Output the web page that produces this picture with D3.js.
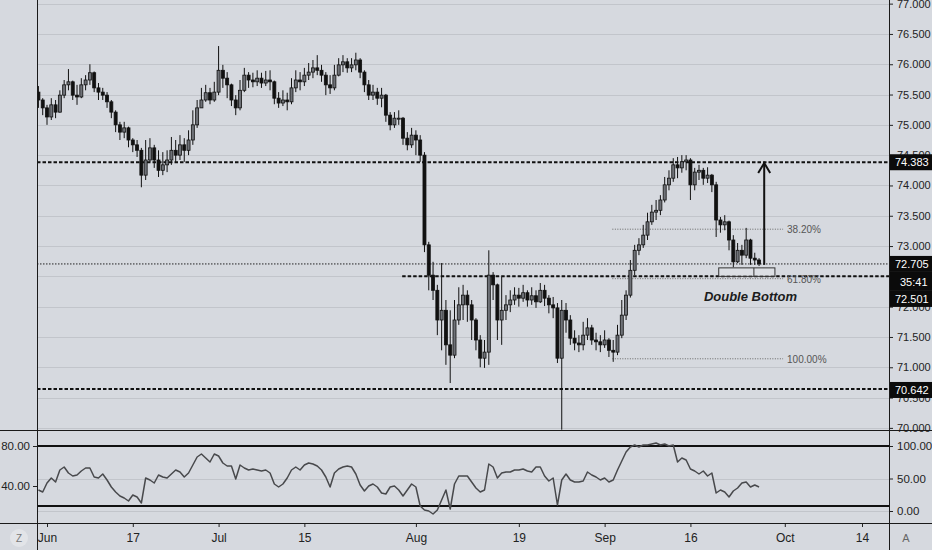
<!DOCTYPE html>
<html><head><meta charset="utf-8">
<script src="https://cdn.jsdelivr.net/npm/d3@7"></script>
<style>html,body{margin:0;padding:0;background:#d6d9df;overflow:hidden}svg{display:block;font-family:"Liberation Sans",Arial,sans-serif}</style>
</head><body><svg id="c" width="932" height="550"></svg>
<script>
// ---- data ----
// time axis: trading-day index counted from Mon 3 Jun 2019
const tickLabels = ["Jun","17","Jul","15","Aug","19","Sep","16","Oct","14"];
const tickDays   = [0,10,20,30,43,55,65,75,86,95];
const firstDay = -1, dayStep = 0.5; // half-day candles

const opens = [
75.54,75.41,75.28,75.13,75.33,75.21,75.49,75.66,75.71,75.49,
75.46,75.66,75.74,75.86,75.61,75.54,75.49,75.38,75.21,75.00,
74.88,74.95,74.75,74.67,74.58,74.17,74.42,74.62,74.42,74.25,
74.34,74.42,74.58,74.50,74.67,74.58,74.75,75.00,75.28,75.41,
75.53,75.41,75.54,75.90,75.77,75.66,75.41,75.28,75.57,75.82,
75.74,75.71,75.77,75.69,75.74,75.71,75.44,75.36,75.41,75.38,
75.61,75.74,75.71,75.82,75.87,75.94,75.90,75.82,75.66,75.61,
75.82,75.99,76.04,75.94,75.99,76.07,75.87,75.66,75.49,75.54,
75.44,75.49,75.16,75.00,75.11,75.11,74.78,74.67,74.83,74.75,
74.50,73.02,72.52,72.27,71.78,71.94,71.37,71.20,71.78,72.03,
72.19,72.03,71.78,71.45,71.15,71.25,72.52,72.36,71.78,71.94,
72.03,72.11,72.19,72.14,72.23,72.11,72.18,72.08,72.27,72.14,
72.03,71.98,71.15,71.94,71.78,71.48,71.40,71.37,71.53,71.65,
71.45,71.42,71.37,71.45,71.28,71.25,71.53,71.86,72.19,72.60,
72.93,73.02,73.18,73.40,73.56,73.59,73.76,74.01,74.12,74.34,
74.29,74.39,74.42,74.01,74.22,74.25,74.12,74.17,74.01,73.43,
73.35,73.40,73.10,72.74,72.93,72.85,73.10,72.80,72.77];
const highs = [
75.64,75.44,75.33,75.44,75.41,75.57,75.74,75.92,75.73,75.66,
75.77,75.82,76.00,75.88,75.69,75.61,75.54,75.41,75.24,75.05,
75.05,74.97,74.78,74.75,74.62,74.75,74.78,74.67,74.58,74.55,
74.58,74.80,74.75,74.83,74.78,74.91,75.24,75.41,75.61,75.66,
75.61,75.71,76.30,75.99,75.87,75.68,75.49,75.74,75.94,75.87,
75.86,75.90,75.86,75.89,75.90,75.73,75.54,75.57,75.53,75.77,
75.90,75.87,75.94,76.02,76.07,76.15,75.99,75.87,75.82,75.99,
76.10,76.15,76.10,76.10,76.19,76.10,75.90,75.74,75.66,75.61,
75.61,75.51,75.21,75.21,75.24,75.13,74.88,74.95,74.91,74.83,
74.55,73.07,72.74,72.36,72.72,72.11,71.94,72.11,72.32,72.36,
72.27,72.11,71.81,71.53,71.45,72.93,72.57,72.38,72.49,72.19,
72.27,72.32,72.31,72.36,72.27,72.32,72.27,72.39,72.36,72.19,
72.16,72.06,72.11,72.06,71.86,71.61,71.53,71.75,71.81,71.70,
71.57,71.53,71.61,71.48,71.45,71.70,72.11,72.27,72.77,73.02,
73.13,73.35,73.55,73.68,73.76,73.84,74.14,74.25,74.45,74.47,
74.50,74.50,74.45,74.29,74.34,74.29,74.30,74.19,74.06,73.48,
73.51,73.42,73.18,73.05,73.02,73.30,73.12,72.89,72.80];
const lows = [
75.28,75.16,75.00,75.08,75.11,75.20,75.44,75.57,75.41,75.33,
75.44,75.57,75.66,75.54,75.41,75.41,75.28,75.11,74.88,74.75,
74.78,74.63,74.55,74.47,73.97,74.09,74.39,74.29,74.14,74.17,
74.22,74.34,74.37,74.42,74.39,74.50,74.67,74.95,75.28,75.38,
75.34,75.38,75.49,75.61,75.44,75.31,75.16,75.24,75.54,75.61,
75.62,75.64,75.61,75.64,75.57,75.34,75.28,75.31,75.24,75.34,
75.54,75.57,75.64,75.74,75.77,75.82,75.71,75.49,75.51,75.57,
75.80,75.87,75.86,75.87,75.90,75.77,75.54,75.41,75.41,75.33,
75.29,75.05,74.91,74.95,75.00,74.67,74.58,74.62,74.50,74.39,
72.90,72.27,72.11,71.53,71.28,71.04,70.74,71.15,71.70,71.78,
71.75,71.45,71.28,71.00,70.99,71.04,72.11,71.45,71.37,71.78,
71.91,72.03,72.00,72.08,72.00,72.03,71.98,72.06,72.01,71.89,
71.81,71.07,69.97,71.57,71.37,71.28,71.25,71.28,71.45,71.37,
71.28,71.25,71.32,71.17,71.09,71.20,71.48,71.78,72.15,72.52,
72.85,72.97,73.10,73.35,73.43,73.51,73.72,73.92,74.06,74.12,
74.21,74.25,73.76,73.92,74.09,74.01,74.04,73.89,73.15,73.22,
73.26,72.93,72.65,72.72,72.69,72.80,72.69,72.69,72.67];
const closes = [
75.41,75.28,75.13,75.33,75.21,75.49,75.66,75.71,75.49,75.46,
75.66,75.74,75.86,75.61,75.54,75.49,75.38,75.21,75.00,74.88,
74.95,74.75,74.67,74.58,74.17,74.42,74.62,74.42,74.25,74.34,
74.42,74.58,74.50,74.67,74.58,74.75,75.00,75.28,75.41,75.53,
75.41,75.54,75.90,75.77,75.66,75.41,75.28,75.57,75.82,75.74,
75.71,75.77,75.69,75.74,75.71,75.44,75.36,75.41,75.38,75.61,
75.74,75.71,75.82,75.87,75.94,75.90,75.82,75.66,75.61,75.82,
75.99,76.04,75.94,75.99,76.07,75.87,75.66,75.49,75.54,75.44,
75.49,75.16,75.00,75.11,75.11,74.78,74.67,74.83,74.75,74.50,
73.02,72.52,72.27,71.78,71.94,71.37,71.20,71.78,72.03,72.19,
72.03,71.78,71.45,71.15,71.25,72.52,72.36,71.78,71.94,72.03,
72.11,72.19,72.14,72.23,72.11,72.18,72.08,72.27,72.14,72.03,
71.98,71.15,71.94,71.78,71.48,71.40,71.37,71.53,71.65,71.45,
71.42,71.37,71.45,71.28,71.25,71.53,71.86,72.19,72.60,72.93,
73.02,73.18,73.40,73.56,73.59,73.76,74.01,74.12,74.34,74.29,
74.39,74.42,74.01,74.22,74.25,74.12,74.17,74.01,73.43,73.35,
73.40,73.10,72.74,72.93,72.85,73.10,72.80,72.77,72.705];
const rsi = [
36,34,43,48,44,56,59,53,50,51,
55,58,58,49,48,52,46,39,34,30,
28,25,31,29,23,48,46,43,51,49,
48,52,56,54,49,53,61,69,72,68,
64,72,70,63,60,60,47,61,58,56,
57,56,55,56,53,42,39,42,48,56,
59,56,61,63,62,60,56,49,39,53,
57,59,60,59,52,41,35,40,42,39,
33,32,39,40,36,30,36,42,39,20,
16,15,12,16,26,36,17,42,50,50,
50,44,38,34,36,62,59,48,53,54,
54,56,56,57,55,54,59,59,50,45,
48,21,46,52,46,44,44,45,54,51,
49,46,48,44,46,56,65,74,79,81,
79,81,81,82,83,81,82,80,81,64,
68,66,57,55,52,55,50,53,33,36,
34,29,35,38,43,44,39,41,39];

const priceTicks = [70,70.5,71,71.5,72,72.5,73,73.5,74,74.5,75,75.5,76,76.5,77];
const keyLevels = [74.383, 72.501, 70.642];
const keyLevelStartDay = [-2, 41.4, -2];
const lastPrice = 72.705, countdown = "35:41";
const fibHigh = 74.60, fibLow = 71.14;
const fibRatios = [0.382, 0.618, 1.0];
const fibLabels = ["38.20%","61.80%","100.00%"];
const fibStartDay = 65.9, fibEndDay = 85.8;
const arrowDay = 83.6, arrowFrom = 72.69, arrowTo = 74.37;
const boxDays = [78.3, 82.4, 84.85], boxTop = 72.64, boxBottom = 72.50;
const patternLabel = "Double Bottom", patternDay = 82.0, patternPrice = 72.10;
const rsiLeftTicks = [80, 40], rsiBands = [80, 20], rsiRightTicks = [100, 50, 0];

// ---- drawing ----
const W = 932, H = 550, L = 37, R = 889, mainB = 430, axT = 523;
const svg = d3.select("#c");
svg.append("rect").attr("width", W).attr("height", H).attr("fill", "#d6d9df");
const defs = svg.append("defs");
defs.append("clipPath").attr("id", "cm").append("rect").attr("x", L).attr("y", 0).attr("width", R - L).attr("height", mainB);
defs.append("clipPath").attr("id", "cr").append("rect").attr("x", L).attr("y", mainB).attr("width", R - L).attr("height", axT - mainB);

const x = d3.scaleLinear().domain([0, 95]).range([47, 862]);
const y = d3.scaleLinear().domain([69.965, 77.06]).range([430, 0]);
const yL = d3.scaleLinear().domain([40, 80]).range([486, 446]);
const yR = d3.scaleLinear().domain([0, 100]).range([511, 446]);

const main = svg.append("g").attr("clip-path", "url(#cm)");
// grid
main.selectAll("line.g").data(priceTicks).join("line")
  .attr("x1", L).attr("x2", R).attr("y1", d => Math.round(y(d)) + 0.5).attr("y2", d => Math.round(y(d)) + 0.5)
  .attr("stroke", "#c2c5cb").attr("stroke-width", 1);

// current price line
main.append("line").attr("x1", L).attr("x2", R).attr("y1", y(lastPrice)).attr("y2", y(lastPrice))
  .attr("stroke", "#222").attr("stroke-width", 1).attr("stroke-dasharray", "1.5,1.5");

// key dashed levels
keyLevels.forEach((v, i) => {
  main.append("line").attr("x1", Math.max(L, x(keyLevelStartDay[i]))).attr("x2", R)
    .attr("y1", y(v)).attr("y2", y(v)).attr("stroke", "#111").attr("stroke-width", 2)
    .attr("stroke-dasharray", "3.5,2");
});

// fib lines
fibRatios.forEach((r, i) => {
  const v = fibHigh - r * (fibHigh - fibLow);
  main.append("line").attr("x1", x(fibStartDay)).attr("x2", x(fibEndDay))
    .attr("y1", y(v)).attr("y2", y(v)).attr("stroke", "#666").attr("stroke-width", 1).attr("stroke-dasharray", "1,1.5");
  main.append("text").attr("x", x(fibEndDay) + 4).attr("y", y(v) + 4).text(fibLabels[i])
    .attr("font-size", 10).attr("fill", "#555");
});

// candles
const candles = closes.map((c, k) => ({ d: firstDay + k * dayStep, o: opens[k], h: highs[k], l: lows[k], c }));
const cg = main.append("g");
cg.selectAll("line.w").data(candles).join("line")
  .attr("x1", d => x(d.d)).attr("x2", d => x(d.d)).attr("y1", d => y(d.h)).attr("y2", d => y(d.l))
  .attr("stroke", "#111").attr("stroke-width", 1);
cg.selectAll("rect.b").data(candles).join("rect")
  .attr("x", d => x(d.d) - 1.5).attr("width", 3)
  .attr("y", d => y(Math.max(d.o, d.c))).attr("height", d => Math.max(1, Math.abs(y(d.o) - y(d.c))))
  .attr("fill", d => d.c >= d.o ? "#6f7278" : "#111").attr("stroke", "#111").attr("stroke-width", 0.8);

// pattern box
main.append("rect").attr("x", x(boxDays[0])).attr("y", y(boxTop)).attr("width", x(boxDays[2]) - x(boxDays[0]))
  .attr("height", y(boxBottom) - y(boxTop)).attr("fill", "#dfe2e7").attr("fill-opacity", 0.6)
  .attr("stroke", "#333").attr("stroke-width", 1);
main.append("line").attr("x1", x(boxDays[1])).attr("x2", x(boxDays[1])).attr("y1", y(boxTop)).attr("y2", y(boxBottom))
  .attr("stroke", "#333").attr("stroke-width", 1);
// arrow
const ax = x(arrowDay);
main.append("line").attr("x1", ax).attr("x2", ax).attr("y1", y(arrowFrom)).attr("y2", y(arrowTo) + 1)
  .attr("stroke", "#111").attr("stroke-width", 2);
main.append("path").attr("d", `M${ax - 6},${y(arrowTo) + 10}L${ax},${y(arrowTo)}L${ax + 6},${y(arrowTo) + 10}`)
  .attr("fill", "none").attr("stroke", "#111").attr("stroke-width", 2);
main.append("text").attr("x", x(patternDay)).attr("y", y(patternPrice)).attr("text-anchor", "middle")
  .attr("font-size", 13).attr("font-weight", "bold").attr("font-style", "italic").attr("fill", "#1c1c1c")
  .text(patternLabel);

// RSI pane
const rg = svg.append("g").attr("clip-path", "url(#cr)");
rsiRightTicks.forEach(v => {
  rg.append("line").attr("x1", L).attr("x2", R).attr("y1", Math.round(yR(v)) + 0.5).attr("y2", Math.round(yR(v)) + 0.5)
    .attr("stroke", "#c2c5cb");
});
rsiBands.forEach(v => {
  rg.append("line").attr("x1", L).attr("x2", R).attr("y1", yL(v)).attr("y2", yL(v))
    .attr("stroke", "#111").attr("stroke-width", 2.2);
});
rg.append("path").datum(rsi.map((v, k) => [firstDay + k * dayStep, v]))
  .attr("d", d3.line().x(d => x(d[0])).y(d => yL(d[1])))
  .attr("fill", "none").attr("stroke", "#48494c").attr("stroke-width", 1.5).attr("stroke-linejoin", "round");

// axes
function styleAxis(g, fs) {
  g.select(".domain").remove();
  g.selectAll("line").attr("stroke", "#222");
  g.selectAll("text").attr("fill", "#222").attr("font-size", fs).attr("font-family", '"Liberation Sans",Arial,sans-serif');
}
svg.append("g").attr("transform", `translate(${R},0)`)
  .call(d3.axisRight(y).tickValues(priceTicks).tickFormat(d3.format(".3f")).tickSize(4).tickPadding(4))
  .call(g => styleAxis(g, 11));
svg.append("g").attr("transform", `translate(${R},0)`)
  .call(d3.axisRight(yR).tickValues(rsiRightTicks).tickFormat(d3.format(".2f")).tickSize(4).tickPadding(4))
  .call(g => styleAxis(g, 11.5));
svg.append("g").attr("transform", `translate(${L},0)`)
  .call(d3.axisLeft(yL).tickValues(rsiLeftTicks).tickFormat(d3.format(".2f")).tickSize(4).tickPadding(3))
  .call(g => styleAxis(g, 11.5));
svg.append("g").attr("transform", `translate(0,${axT})`)
  .call(d3.axisBottom(x).tickValues(tickDays).tickFormat((d, i) => tickLabels[i]).tickSize(4).tickPadding(6))
  .call(g => styleAxis(g, 12));

// price label boxes
function labelBox(cy, txt) {
  svg.append("rect").attr("x", R).attr("y", cy - 8).attr("width", W - R).attr("height", 16).attr("fill", "#0b0b0b");
  svg.append("text").attr("x", R + 6).attr("y", cy + 4).text(txt).attr("fill", "#fff").attr("font-size", 11);
}
labelBox(y(keyLevels[0]), keyLevels[0].toFixed(3));
const lastY = y(lastPrice);
labelBox(lastY, lastPrice.toFixed(3));
svg.append("rect").attr("x", R).attr("y", lastY + 8).attr("width", W - R).attr("height", 19).attr("fill", "#0b0b0b");
svg.append("text").attr("x", R + 11).attr("y", lastY + 22).text(countdown).attr("fill", "#fff").attr("font-size", 11);
labelBox(Math.max(y(keyLevels[1]), lastY + 35), keyLevels[1].toFixed(3));
labelBox(y(keyLevels[2]) + 1, keyLevels[2].toFixed(3));

// frame lines
[[L + 0.5, 0, L + 0.5, H], [R + 0.5, 0, R + 0.5, H], [0, mainB + 0.5, W, mainB + 0.5], [0, axT + 0.5, W, axT + 0.5]]
  .forEach(p => svg.append("line").attr("x1", p[0]).attr("y1", p[1]).attr("x2", p[2]).attr("y2", p[3])
    .attr("stroke", "#1a1a1a").attr("stroke-width", 1));

// corner widgets
svg.append("circle").attr("cx", 19).attr("cy", 538).attr("r", 9).attr("fill", "#e2e4e8");
svg.append("text").attr("x", 19).attr("y", 542).attr("text-anchor", "middle").text("Z").attr("font-size", 10).attr("fill", "#777");
svg.append("text").attr("x", 906).attr("y", 542).attr("text-anchor", "middle").text("A").attr("font-size", 11).attr("fill", "#666");
</script></body></html>
